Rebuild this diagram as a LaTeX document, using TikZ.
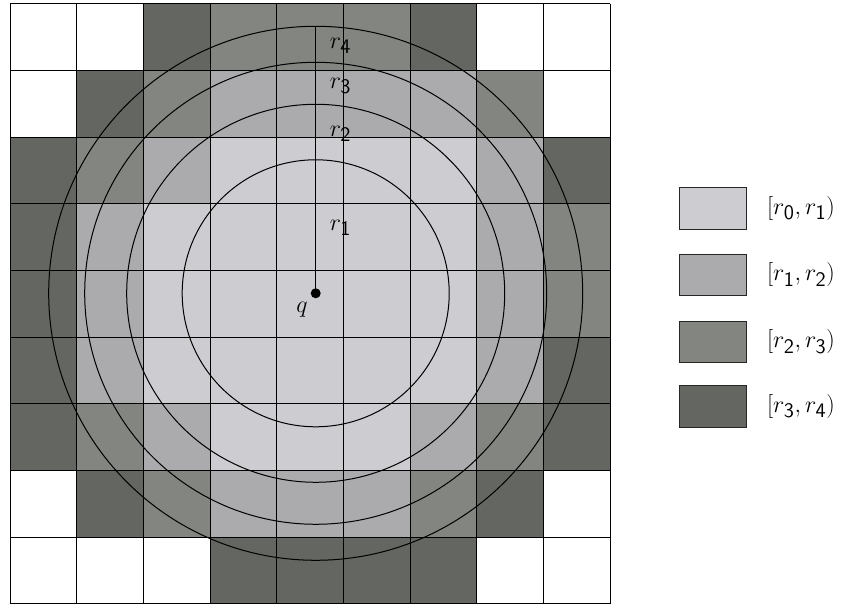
\RequirePackage{fix-cm}
\documentclass[tikz,border=0pt]{standalone}
\DeclareMathSizes{18}{18}{15.5}{13}
\definecolor{cW}{HTML}{FFFFFF}
\definecolor{cL}{HTML}{CDCCD0}
\definecolor{cB}{HTML}{ABAAAD}
\definecolor{cM}{HTML}{838581}
\definecolor{cD}{HTML}{646661}
\tikzset{
  gridline/.style={draw=black, line width=0.75pt},
  ringline/.style={draw=black, line width=0.75pt},
  lbl/.style={inner sep=0pt, font=\fontsize{18}{21}\selectfont},
  legbox/.style={draw=black!85, line width=0.6pt, minimum width=50.25pt, minimum height=31pt, inner sep=0pt},
  qdot/.style={circle, fill=black, inner sep=0pt, minimum size=7.5pt}
}
\begin{document}
\begin{tikzpicture}[x=0.75pt,y=0.75pt]
\useasboundingbox (0,0) rectangle (847,605);
\pgfmathsetmacro\cs{600/9}
% cells
\foreach \rowlist [count=\ri from 0] in {
  {W,W,D,M,M,M,D,W,W},
  {W,D,M,B,B,B,B,M,W},
  {D,M,B,L,L,L,L,B,D},
  {D,B,L,L,L,L,L,B,M},
  {D,B,L,L,L,L,L,B,M},
  {D,B,L,L,L,L,L,B,D},
  {D,M,B,L,L,L,B,M,D},
  {W,D,M,B,B,B,M,D,W},
  {W,W,W,D,D,D,D,W,W}} {
  \foreach \cc [count=\ci from 0] in \rowlist {
    \fill[c\cc] (10+\ci*\cs, 601-\ri*\cs-\cs) rectangle (10+\ci*\cs+\cs, 601-\ri*\cs);
  }
}
% grid
\foreach \i in {0,...,9} {
  \draw[gridline] (10+\i*\cs,1) -- (10+\i*\cs,601);
  \draw[gridline] (10,1+\i*\cs) -- (610,1+\i*\cs);
}
% query point and rings
\node[qdot] (q) at (315.7,311.7) {};
\draw[ringline] (q.center) circle[radius=133.5];
\draw[ringline] (q.center) circle[radius=189];
\draw[ringline] (q.center) circle[radius=231];
\draw[ringline] (q.center) circle[radius=267];
\coordinate (top) at (315.7,578.7);
\draw[ringline] (q.center) -- (top);
% labels
\node[lbl] (lq) at (302,295) {$q$};
\node[lbl] (l1) at (340.5,377) {$r_{\mathsf{1}}$};
\node[lbl] (l2) at (340.5,471) {$r_{\mathsf{2}}$};
\node[lbl] (l3) at (340.5,519) {$r_{\mathsf{3}}$};
\node[lbl] (l4) at (340.5,559) {$r_{\mathsf{4}}$};
% legend
\node[legbox, fill=cL] (k1) at (713,396.5) {};
\node[legbox, fill=cB] (k2) at (713,330) {};
\node[legbox, fill=cM] (k3) at (713,263) {};
\node[legbox, fill=cD] (k4) at (713,198.5) {};
\node[lbl, anchor=west] (t1) at ([xshift=15pt]k1.east) {$[r_{\mathsf{0}}, r_{\mathsf{1}})$};
\node[lbl, anchor=west] (t2) at ([xshift=15pt]k2.east) {$[r_{\mathsf{1}}, r_{\mathsf{2}})$};
\node[lbl, anchor=west] (t3) at ([xshift=15pt]k3.east) {$[r_{\mathsf{2}}, r_{\mathsf{3}})$};
\node[lbl, anchor=west] (t4) at ([xshift=15pt]k4.east) {$[r_{\mathsf{3}}, r_{\mathsf{4}})$};
\end{tikzpicture}
\end{document}
